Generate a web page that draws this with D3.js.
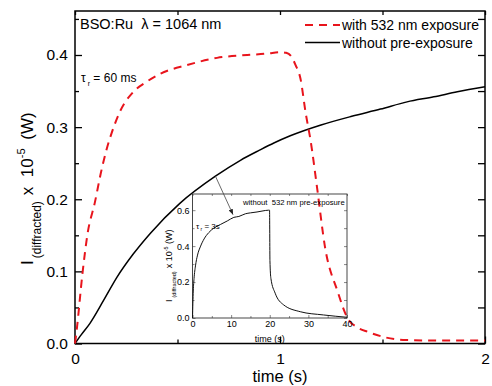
<!DOCTYPE html>
<html>
<head>
<meta charset="utf-8">
<script src="https://cdn.jsdelivr.net/npm/d3@7"></script>
<style>
  body { margin: 0; background: #fff; }
  text { font-family: Arial, "Liberation Sans", sans-serif; fill: #000; white-space: pre; }
</style>
</head>
<body>
<div id="chart"></div>
<script>
// Main plot: diffracted intensity vs time (s)
var redT = [0, 0.008, 0.036, 0.06, 0.098, 0.125, 0.155, 0.179, 0.22, 0.285, 0.35, 0.416, 0.546, 0.693, 0.84, 0.94, 1.0, 1.03, 1.055, 1.076, 1.10, 1.125, 1.15, 1.18, 1.22, 1.28, 1.33, 1.38, 1.43, 1.506, 1.6, 1.8, 2.0];
var redV = [0, 0.018, 0.096, 0.15, 0.197, 0.235, 0.27, 0.292, 0.322, 0.349, 0.363, 0.374, 0.386, 0.396, 0.400, 0.402, 0.404, 0.403, 0.398, 0.386, 0.367, 0.32, 0.28, 0.218, 0.133, 0.073, 0.035, 0.022, 0.016, 0.009, 0.005, 0.004, 0.004];

var blackT = [0, 0.03, 0.073, 0.14, 0.205, 0.284, 0.368, 0.51, 0.685, 0.807, 0.90, 0.97, 1.05, 1.2, 1.35, 1.49, 1.62, 1.75, 1.865, 2.0];
var blackV = [0, 0.012, 0.028, 0.06, 0.092, 0.124, 0.153, 0.194, 0.232, 0.254, 0.268, 0.278, 0.288, 0.303, 0.315, 0.325, 0.335, 0.342, 0.349, 0.356];

// Inset: without 532 nm pre-exposure, time (s)
var insetT = [0, 0.2, 0.4, 0.77, 1.3, 2.1, 3, 4.2, 5.5, 7.2, 9, 10.7, 12, 13.7, 15, 16.7, 18, 19.7, 19.95, 20.05, 20.3, 21.4, 23.6, 27.9, 33.9, 40];
var insetV = [0, 0.15, 0.22, 0.29, 0.35, 0.40, 0.44, 0.475, 0.50, 0.52, 0.54, 0.56, 0.565, 0.58, 0.585, 0.59, 0.595, 0.60, 0.60, 0.32, 0.22, 0.138, 0.073, 0.035, 0.017, 0.004];

var xTicks = [0, 1, 2];
var xMinor = [0.5, 1.5];
var yTicks = [0, 0.1, 0.2, 0.3, 0.4];
var yMinor = [0.05, 0.15, 0.25, 0.35, 0.45];
var insetXTicks = [0, 10, 20, 30, 40];
var insetXMinor = [5, 15, 25, 35];
var insetYTicks = [0, 0.2, 0.4, 0.6];
var insetYMinor = [0.1, 0.3, 0.5];

var legendLabels = ["with 532 nm exposure", "without pre-exposure"];

var width = 492, height = 386;
var svg = d3.select("#chart").append("svg")
    .attr("width", width)
    .attr("height", height);

var x = d3.scaleLinear().domain([0, 2]).range([75, 485]);
var y = d3.scaleLinear().domain([0, 0.461]).range([343.5, 11]);

function zip(a, b) { return a.map(function(d, i) { return [d, b[i]]; }); }

// frame with inward ticks on all four sides
function frame(g, xs, ys, xt, xm, yt, ym, big, small, fmtX, fmtY, fs, padX, padY) {
  var x0 = xs.range()[0], x1 = xs.range()[1], y0 = ys.range()[0], y1 = ys.range()[1];
  g.append("g").attr("transform", "translate(0," + y0 + ")")
    .call(d3.axisBottom(xs).tickValues(xt).tickSize(-big).tickPadding(padX).tickFormat(fmtX));
  g.append("g").attr("transform", "translate(0," + y0 + ")")
    .call(d3.axisBottom(xs).tickValues(xm).tickSize(-small).tickFormat(""));
  g.append("g").attr("transform", "translate(0," + y1 + ")")
    .call(d3.axisTop(xs).tickValues(xt.concat(xm)).tickSize(-small).tickFormat(""));
  g.append("g").attr("transform", "translate(" + x0 + ",0)")
    .call(d3.axisLeft(ys).tickValues(yt).tickSize(-big).tickPadding(padY).tickFormat(fmtY));
  g.append("g").attr("transform", "translate(" + x0 + ",0)")
    .call(d3.axisLeft(ys).tickValues(ym).tickSize(-small).tickFormat(""));
  g.append("g").attr("transform", "translate(" + x1 + ",0)")
    .call(d3.axisRight(ys).tickValues(yt.concat(ym)).tickSize(-big).tickFormat(""));
  g.selectAll(".domain").remove();
  g.selectAll(".tick line").attr("stroke", "#000");
  g.selectAll(".tick text").style("font-size", fs + "px").attr("fill", "#000");
  g.append("rect")
    .attr("x", x0).attr("y", y1)
    .attr("width", x1 - x0).attr("height", y0 - y1)
    .attr("fill", "none").attr("stroke", "#000");
}

var main = svg.append("g");
frame(main, x, y, xTicks, xMinor, yTicks, yMinor, 7, 4,
  d3.format("d"), d3.format(".1f"), 15.5, 9, 7);
main.selectAll(".tick line").attr("stroke-width", 1.3);
main.select("rect").attr("stroke-width", 1.5);

var line = d3.line()
    .x(function(d) { return x(d[0]); })
    .y(function(d) { return y(d[1]); })
    .curve(d3.curveMonotoneX);

// inset
var ix = d3.scaleLinear().domain([0, 40]).range([192.5, 347]);
var iy = d3.scaleLinear().domain([0, 0.69]).range([318, 194]);
var inset = svg.append("g");
frame(inset, ix, iy, insetXTicks, insetXMinor, insetYTicks, insetYMinor, 3, 2,
  d3.format("d"), d3.format(".1f"), 9, 3, 3);
inset.selectAll(".tick line").attr("stroke", "#555").attr("stroke-width", 0.7);
inset.select("rect").attr("stroke", "#333").attr("stroke-width", 0.9);
inset.selectAll(".tick text").attr("fill", "#222");

var iline = d3.line()
    .x(function(d) { return ix(d[0]); })
    .y(function(d) { return iy(d[1]); })
    .curve(d3.curveMonotoneX);

inset.append("path")
    .attr("d", iline(zip(insetT, insetV)))
    .attr("fill", "none")
    .attr("stroke", "#111")
    .attr("stroke-width", 1);

inset.append("text")
    .attr("x", 243).attr("y", 205)
    .style("font-size", "7.7px").attr("fill", "#222")
    .text("without  532 nm pre-exposure");

var tauI = inset.append("text")
    .attr("x", 196).attr("y", 229)
    .style("font-size", "8px").attr("fill", "#222");
tauI.append("tspan").text("τ");
tauI.append("tspan").attr("dy", 2).style("font-size", "5px").text(" r");
tauI.append("tspan").attr("dy", -2).text(" = 3s");

inset.append("text")
    .attr("x", ix(20)).attr("y", 342)
    .attr("text-anchor", "middle")
    .style("font-size", "9px").attr("fill", "#222")
    .text("time (s)");

var iyl = inset.append("text")
    .attr("transform", "translate(172,302) rotate(-90)")
    .style("font-size", "9px").attr("fill", "#222");
iyl.append("tspan").text("I");
iyl.append("tspan").attr("dx", 2).attr("dy", 4).style("font-size", "5.5px").text("(diffracted)");
iyl.append("tspan").attr("dx", 3).attr("dy", -4).text("x 10");
iyl.append("tspan").attr("dy", -4).style("font-size", "5.5px").text("-5");
iyl.append("tspan").attr("dy", 4).text(" (W)");

// main curves
main.append("path")
    .attr("d", line(zip(blackT, blackV)))
    .attr("fill", "none")
    .attr("stroke", "#000")
    .attr("stroke-width", 1.5);

main.append("path")
    .attr("d", line(zip(redT, redV)))
    .attr("fill", "none")
    .attr("stroke", "#e8141c")
    .attr("stroke-width", 2)
    .attr("stroke-dasharray", "8,6");

// arrow from main black curve to inset curve
svg.append("defs").append("marker")
    .attr("id", "ah")
    .attr("viewBox", "0 0 10 10")
    .attr("refX", 10).attr("refY", 5)
    .attr("markerWidth", 7).attr("markerHeight", 7)
    .attr("orient", "auto")
  .append("path")
    .attr("d", "M0,1 L10,5 L0,9 Z")
    .attr("fill", "#222");

svg.append("line")
    .attr("x1", x(0.685)).attr("y1", y(0.232))
    .attr("x2", ix(10.5)).attr("y2", iy(0.575))
    .attr("stroke", "#444")
    .attr("stroke-width", 0.8)
    .attr("marker-end", "url(#ah)");

// labels
svg.append("text")
    .attr("x", 80).attr("y", 29)
    .style("font-size", "14.5px")
    .text("BSO:Ru  λ = 1064 nm");

var tau = svg.append("text")
    .attr("x", 81).attr("y", 82)
    .style("font-size", "12px");
tau.append("tspan").text("τ");
tau.append("tspan").attr("dy", 4).style("font-size", "7px").text(" r");
tau.append("tspan").attr("dy", -4).text(" = 60 ms");

svg.append("text")
    .attr("x", x(1)).attr("y", 382)
    .attr("text-anchor", "middle")
    .style("font-size", "16.5px")
    .text("time (s)");

var yl = svg.append("text")
    .attr("transform", "translate(33,265) rotate(-90)")
    .style("font-size", "17px");
yl.append("tspan").text("I");
yl.append("tspan").attr("dx", 2).attr("dy", 8).style("font-size", "12px").text("(diffracted)");
yl.append("tspan").attr("dx", 6).attr("dy", -8).text("x  10");
yl.append("tspan").attr("dy", -8).style("font-size", "11px").text("-5");
yl.append("tspan").attr("dx", 4).attr("dy", 8).text(" (W)");

// legend
var legend = svg.append("g");
legend.selectAll("line")
    .data(legendLabels)
  .enter().append("line")
    .attr("x1", 305).attr("x2", 340)
    .attr("y1", function(d, i) { return 25 + i * 17.5; })
    .attr("y2", function(d, i) { return 25 + i * 17.5; })
    .attr("stroke", function(d, i) { return i === 0 ? "#e8141c" : "#000"; })
    .attr("stroke-width", function(d, i) { return i === 0 ? 2 : 1.5; })
    .attr("stroke-dasharray", function(d, i) { return i === 0 ? "8,6" : null; });
legend.selectAll("text")
    .data(legendLabels)
  .enter().append("text")
    .attr("x", 342)
    .attr("y", function(d, i) { return 30 + i * 17.5; })
    .style("font-size", "14px")
    .text(function(d) { return d; });
</script>
</body>
</html>
